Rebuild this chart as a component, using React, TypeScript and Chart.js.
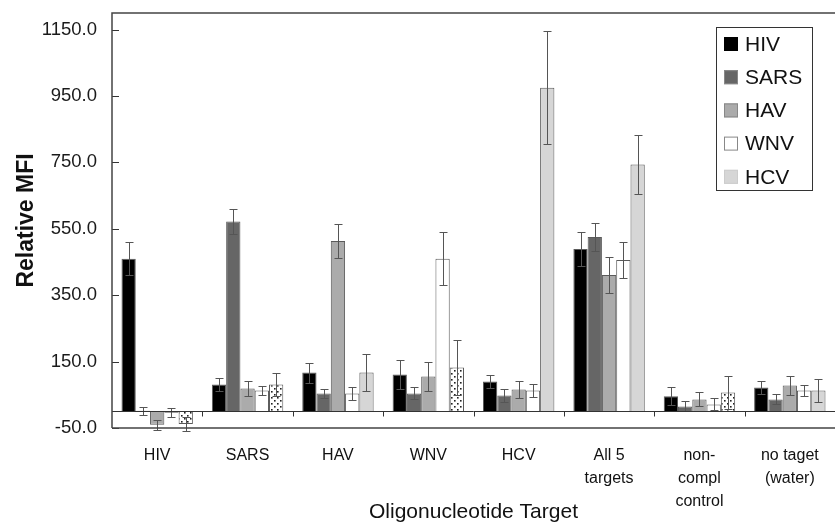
import React, { useEffect, useRef } from 'react';
import { Chart, registerables } from 'chart.js';

Chart.register(...registerables);

const FONT = '"Liberation Sans", Arial, sans-serif';

const categories: string[][] = [
  ['HIV'],
  ['SARS'],
  ['HAV'],
  ['WNV'],
  ['HCV'],
  ['All 5', 'targets'],
  ['non-', 'compl', 'control'],
  ['no taget', '(water)'],
];

const seriesNames = ['HIV', 'SARS', 'HAV', 'WNV', 'HCV'];

const hivValues = [460, 81, 117, 111, 90, 489, 46, 72];
const sarsValues = [2, 572, 54, 54, 48, 525, 15, 36];
const havValues = [-40, 69, 513, 105, 66, 411, 36, 78];
const wnvValues = [-4, 63, 54, 460, 63, 456, 21, 63];
const hcvValues = [-38, 81, 117, 132, 975, 744, 57, 63];

const hivErr = [50, 21, 30, 45, 21, 50, 27, 21];
const sarsErr = [12, 38, 13, 18, 20, 42, 15, 15];
const havErr = [15, 22, 52, 45, 27, 55, 21, 30];
const wnvErr = [13, 15, 21, 80, 21, 55, 18, 17];
const hcvErr = [20, 36, 55, 82, 170, 88, 50, 36];

// HCV bars drawn with a dotted fill in the reference
const hcvDotted = [true, true, false, true, false, false, true, false];

const yTicks = [-50, 150, 350, 550, 750, 950, 1150];

const fills = ['#000000', '#666666', '#ababab', '#ffffff', '#d6d6d6'];

export default function App() {
  const ref = useRef<HTMLCanvasElement>(null);

  useEffect(() => {
    document.body.style.margin = '0';
    document.body.style.overflow = 'hidden';
    const canvas = ref.current;
    if (!canvas) return;
    const ctx = canvas.getContext('2d')!;

    const pc = document.createElement('canvas');
    pc.width = 6;
    pc.height = 6;
    const p = pc.getContext('2d')!;
    p.fillStyle = '#ffffff';
    p.fillRect(0, 0, 6, 6);
    p.fillStyle = '#222222';
    p.fillRect(1, 1, 1.6, 1.6);
    p.fillRect(4, 4, 1.6, 1.6);
    const pattern = ctx.createPattern(pc, 'repeat')!;

    const values = [hivValues, sarsValues, havValues, wnvValues, hcvValues];
    const errs = [hivErr, sarsErr, havErr, wnvErr, hcvErr];

    const datasets = seriesNames.map((name, i) => ({
      label: name,
      data: values[i],
      backgroundColor:
        i === 4 ? hcvDotted.map((d) => (d ? pattern : fills[4])) : fills[i],
      borderColor: '#5a5a5a',
      borderWidth: 1,
      barPercentage: 1,
      categoryPercentage: 0.79,
    }));

    const decorPlugin = {
      id: 'decor',
      afterDatasetsDraw(chart: any) {
        const c = chart.ctx;
        const { left, right, top, bottom } = chart.chartArea;
        const xs = chart.scales.x;
        const ys = chart.scales.y;
        c.save();
        // error bars
        c.strokeStyle = '#555555';
        c.lineWidth = 1;
        chart.data.datasets.forEach((ds: any, i: number) => {
          const meta = chart.getDatasetMeta(i);
          meta.data.forEach((bar: any, j: number) => {
            const v = ds.data[j];
            const e = errs[i][j];
            const x = Math.round(bar.x) + 0.5;
            const t = Math.round(ys.getPixelForValue(v + e)) + 0.5;
            const b = Math.round(ys.getPixelForValue(v - e)) + 0.5;
            c.beginPath();
            c.moveTo(x, t);
            c.lineTo(x, b);
            c.moveTo(x - 4, t);
            c.lineTo(x + 4, t);
            c.moveTo(x - 4, b);
            c.lineTo(x + 4, b);
            c.stroke();
          });
        });
        // zero line and category boundary ticks
        const y0 = Math.round(ys.getPixelForValue(0)) + 0.5;
        c.strokeStyle = '#333333';
        c.lineWidth = 1;
        c.beginPath();
        c.moveTo(left, y0);
        c.lineTo(right, y0);
        for (let i = 1; i < categories.length; i++) {
          const bx =
            Math.round((xs.getPixelForValue(i - 1) + xs.getPixelForValue(i)) / 2) + 0.5;
          c.moveTo(bx, y0);
          c.lineTo(bx, y0 + 5);
        }
        c.stroke();
        // inward y ticks
        c.beginPath();
        yTicks.forEach((v) => {
          const py = Math.round(ys.getPixelForValue(v)) + 0.5;
          c.moveTo(left, py);
          c.lineTo(left + 7, py);
        });
        c.stroke();
        // frame
        c.strokeStyle = '#444444';
        c.lineWidth = 1.5;
        c.beginPath();
        c.moveTo(left, bottom);
        c.lineTo(left, top);
        c.lineTo(right, top);
        c.moveTo(left, bottom);
        c.lineTo(right, bottom);
        c.stroke();
        c.restore();
      },
      afterDraw(chart: any) {
        const c = chart.ctx;
        const { right, top } = chart.chartArea;
        const bx = right - 119;
        const by = top + 14;
        c.save();
        c.strokeStyle = '#333333';
        c.lineWidth = 1;
        c.strokeRect(bx + 0.5, by + 0.5, 96, 163);
        chart.data.datasets.forEach((ds: any, i: number) => {
          const cy = by + 17 + i * 33.2;
          c.fillStyle = fills[i];
          c.fillRect(bx + 8, cy - 7, 14, 14);
          if (i > 0) {
            c.strokeStyle = i === 4 ? '#cccccc' : '#888888';
            c.strokeRect(bx + 8.5, cy - 6.5, 13, 13);
          }
          c.fillStyle = '#111111';
          c.font = '21px ' + FONT;
          c.textBaseline = 'middle';
          c.textAlign = 'left';
          c.fillText(ds.label, bx + 29, cy + 1);
        });
        c.restore();
      },
    };

    const chart = new Chart(ctx, {
      type: 'bar',
      data: { labels: categories, datasets: datasets as any },
      options: {
        animation: false,
        responsive: false,
        layout: { padding: { top: 13, left: 0, right: 0, bottom: 0 } },
        plugins: {
          legend: { display: false },
          tooltip: { enabled: false },
        },
        scales: {
          x: {
            type: 'category',
            grid: { display: false, drawTicks: false },
            border: { display: false },
            ticks: {
              autoSkip: false,
              maxRotation: 0,
              minRotation: 0,
              padding: 16.5,
              color: '#111111',
              font: { family: FONT, size: 16, lineHeight: 23 / 16 },
            },
            title: {
              display: true,
              text: 'Oligonucleotide Target',
              color: '#111111',
              font: { family: FONT, size: 21, lineHeight: 1 },
              padding: { top: 0, bottom: 0 },
            },
            afterFit: (s: any) => {
              s.height = 95;
              s.paddingLeft = 0;
              s.paddingRight = 0;
            },
          },
          y: {
            min: -50,
            max: 1200,
            grid: { display: false, drawTicks: false },
            border: { display: false },
            afterBuildTicks: (s: any) => {
              s.ticks = yTicks.map((v) => ({ value: v }));
            },
            ticks: {
              padding: 15,
              color: '#1a1a1a',
              font: { family: FONT, size: 18.5 },
              callback: (v: any) => Number(v).toFixed(1),
            },
            title: {
              display: true,
              text: 'Relative MFI',
              color: '#111111',
              font: { family: FONT, size: 23, weight: 'bold', lineHeight: 1 },
              padding: { top: 15, bottom: 0 },
            },
            afterFit: (s: any) => {
              s.width = 112;
              s.paddingTop = 0;
              s.paddingBottom = 0;
            },
          },
        },
      } as any,
      plugins: [decorPlugin],
    });

    return () => chart.destroy();
  }, []);

  return (
    <canvas
      ref={ref}
      width={835}
      height={523}
      style={{ display: 'block', width: '835px', height: '523px' }}
    />
  );
}
